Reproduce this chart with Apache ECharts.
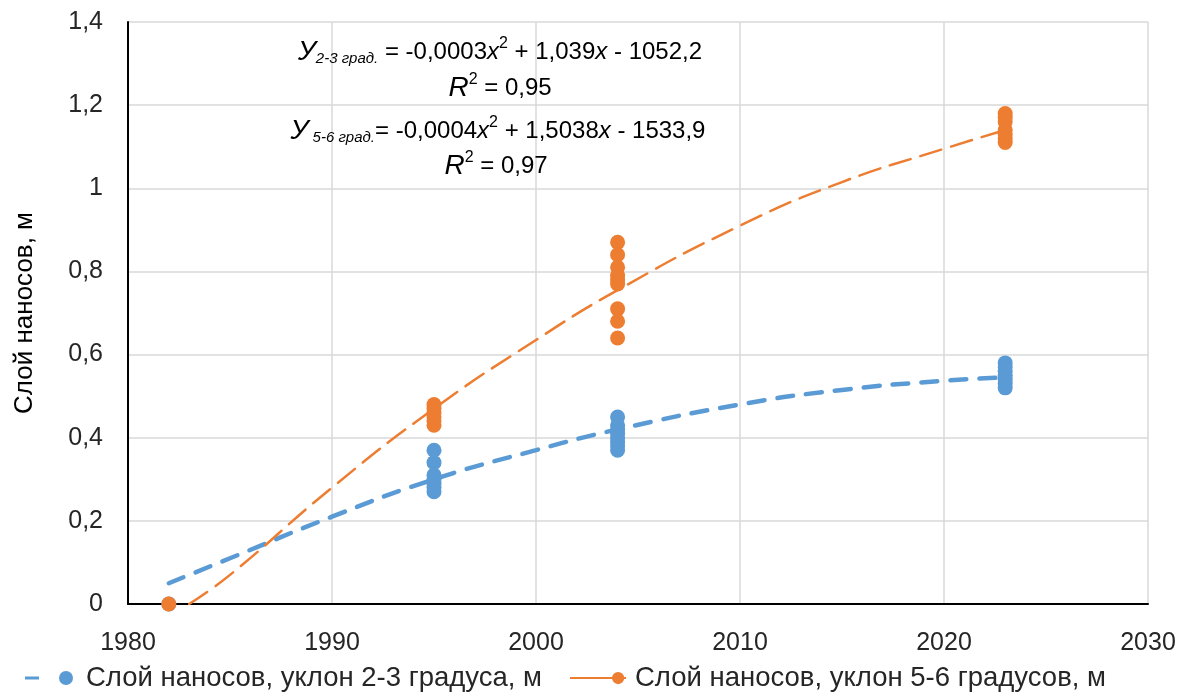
<!DOCTYPE html>
<html>
<head>
<meta charset="utf-8">
<script src="https://cdn.jsdelivr.net/npm/echarts@6/dist/echarts.min.js"></script>
<style>
html, body { margin: 0; padding: 0; background: #fff; }
#container { width: 1187px; height: 698px; }
</style>
</head>
<body>
<div id="container"></div>
<script>
// годы наблюдений
var years = [1982, 1995, 2004, 2023];
// слой наносов, уклон 2-3 градуса
var layer23 = [
    [0],
    [0.37, 0.34, 0.31, 0.30, 0.29, 0.28, 0.27],
    [0.45, 0.43, 0.42, 0.41, 0.40, 0.39, 0.38, 0.37],
    [0.58, 0.57, 0.56, 0.55, 0.54, 0.53, 0.52]
];
// слой наносов, уклон 5-6 градусов
var layer56 = [
    [0],
    [0.48, 0.47, 0.46, 0.45, 0.44, 0.43],
    [0.87, 0.84, 0.81, 0.79, 0.78, 0.77, 0.71, 0.68, 0.64],
    [1.18, 1.17, 1.16, 1.14, 1.13, 1.12, 1.11]
];
// линии тренда
var trendYears23 = [1982, 1985, 1990, 1995, 2000, 2004, 2010, 2015, 2020, 2023];
var trend23 = [0.05, 0.11, 0.21, 0.30, 0.37, 0.42, 0.48, 0.515, 0.537, 0.545];
var trendYears56 = [1983, 1985, 1990, 1995, 2000, 2004, 2010, 2015, 2020, 2023];
var trend56 = [0, 0.07, 0.28, 0.47, 0.635, 0.755, 0.91, 1.015, 1.095, 1.14];

var seriesNames = ['Слой наносов, уклон 2-3 градуса, м', 'Слой наносов, уклон 5-6 градусов, м'];

var toPoints = function (groups) {
    var res = [];
    groups.forEach(function (vals, i) {
        vals.forEach(function (v) { res.push([years[i], v]); });
    });
    return res;
};
var toLine = function (xs, ys) {
    return xs.map(function (x, i) { return [x, ys[i]]; });
};

var blue = '#5B9BD5', orange = '#ED7D31';
var font = "'Liberation Sans', Arial, sans-serif";

var myChart = echarts.init(document.getElementById('container'));

var eqRich = {
    n: { fontFamily: font, fontSize: 24, color: '#262626', lineHeight: 30 },
    i: { fontFamily: font, fontSize: 28, fontStyle: 'italic', color: '#262626', lineHeight: 30 },
    x: { fontFamily: font, fontSize: 24, fontStyle: 'italic', color: '#262626', lineHeight: 30 },
    sub: { fontFamily: font, fontSize: 15, fontStyle: 'italic', color: '#262626', lineHeight: 14, padding: [14, 0, 0, 0] },
    sup: { fontFamily: font, fontSize: 16, color: '#262626', lineHeight: 14, padding: [0, 0, 16, 0] }
};
var eqText = function (x, y, text) {
    return {
        type: 'text', x: x, y: y, z: 10,
        style: { text: text, rich: eqRich, align: 'center', verticalAlign: 'middle' }
    };
};

var option = {
    backgroundColor: '#fff',
    animation: false,
    grid: { left: 128, right: 39, top: 22, bottom: 94 },
    legend: {
        bottom: 1,
        left: 20,
        itemGap: 28,
        itemWidth: 56,
        itemHeight: 14,
        textStyle: { fontFamily: font, fontSize: 27.5, color: '#262626', padding: [0, 0, 0, 4] },
        data: [
            { name: seriesNames[0], icon: 'path://M0,5.5 L14,5.5 L14,8.5 L0,8.5 Z M34,7 A7,7 0 1,1 48,7 A7,7 0 1,1 34,7 Z', itemStyle: { color: blue } },
            { name: seriesNames[1], icon: 'path://M0,5.8 L64,5.8 L64,8.2 L0,8.2 Z M48,7 A7,7 0 1,1 62,7 A7,7 0 1,1 48,7 Z', itemStyle: { color: orange } }
        ]
    },
    xAxis: {
        type: 'value',
        min: 1980, max: 2030, interval: 10,
        axisLine: { show: true, lineStyle: { color: '#000', width: 2 } },
        axisTick: { show: false },
        axisLabel: {
            fontFamily: font, fontSize: 25, color: '#262626', margin: 27,
            formatter: function (v) { return String(v); }
        },
        splitLine: { show: true, lineStyle: { color: '#d9d9d9', width: 1.5 } }
    },
    yAxis: {
        type: 'value',
        min: 0, max: 1.4, interval: 0.2,
        name: 'Слой наносов, м',
        nameLocation: 'middle',
        nameGap: 90,
        nameTextStyle: { fontFamily: font, fontSize: 26, color: '#000' },
        axisLine: { show: true, lineStyle: { color: '#000', width: 2 } },
        axisTick: { show: false },
        axisLabel: {
            fontFamily: font, fontSize: 25, color: '#262626', margin: 25,
            formatter: function (v) { return String(Math.round(v * 10) / 10).replace('.', ','); }
        },
        splitLine: { show: true, lineStyle: { color: '#d9d9d9', width: 1.5 } }
    },
    graphic: [
        eqText(500, 52, '{i|У}{sub|2-3 град.}{n| = -0,0003}{x|x}{sup|2}{n| + 1,039}{x|x}{n| - 1052,2}'),
        eqText(500, 88, '{i|R}{sup|2}{n| = 0,95}'),
        eqText(498, 131, '{i|У}{sub| 5-6 град.}{n|= -0,0004}{x|x}{sup|2}{n| + 1,5038}{x|x}{n| - 1533,9}'),
        eqText(496, 166, '{i|R}{sup|2}{n| = 0,97}')
    ],
    series: [
        {
            name: 'trend23', type: 'line', smooth: true, showSymbol: false, silent: true,
            lineStyle: { color: blue, width: 4.5, type: [16, 13], cap: 'round' },
            data: toLine(trendYears23, trend23), z: 2
        },
        {
            name: 'trend56', type: 'line', smooth: true, showSymbol: false, silent: true,
            lineStyle: { color: orange, width: 2.5, type: [22, 10], cap: 'round' },
            data: toLine(trendYears56, trend56), z: 2
        },
        {
            name: seriesNames[0], type: 'scatter', symbolSize: 15,
            itemStyle: { color: blue, opacity: 1 }, data: toPoints(layer23), z: 3
        },
        {
            name: seriesNames[1], type: 'scatter', symbolSize: 15,
            itemStyle: { color: orange, opacity: 1 }, data: toPoints(layer56), z: 4
        }
    ]
};
myChart.setOption(option);
</script>
</body>
</html>
